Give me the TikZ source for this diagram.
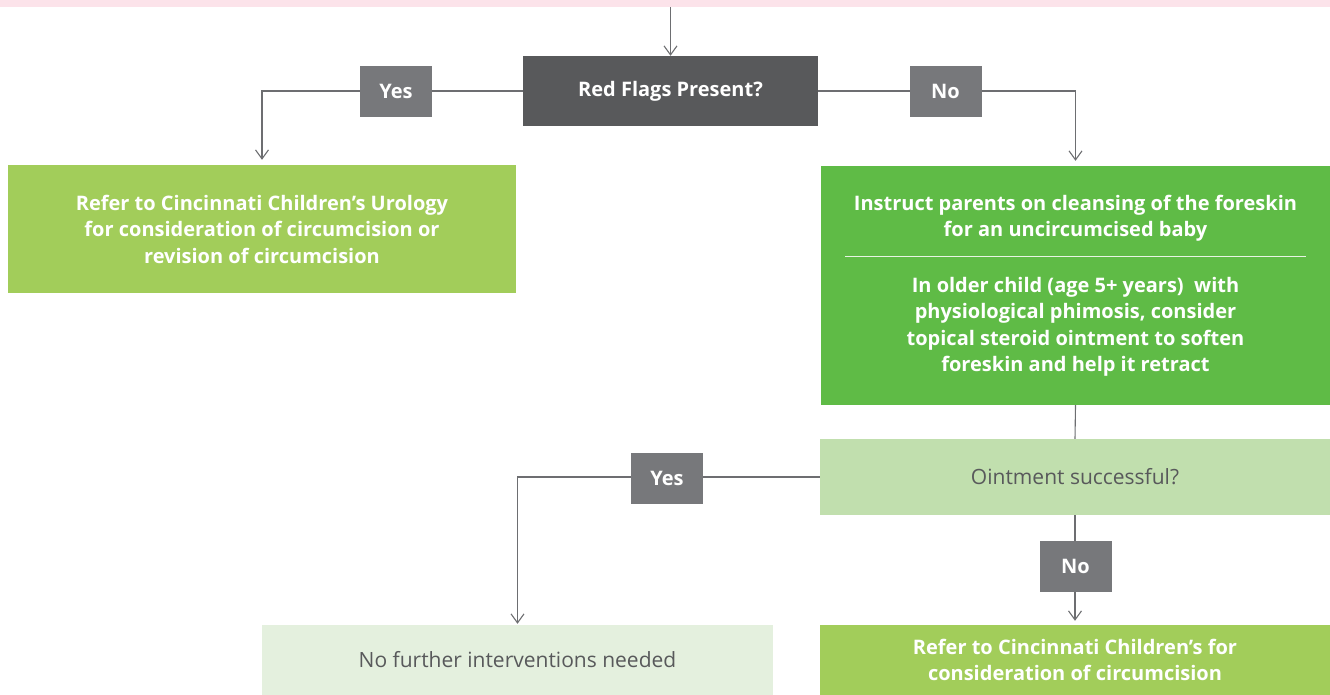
\documentclass[tikz,border=0pt]{standalone}
\usepackage{fontspec}
\setmainfont{Open Sans}
\usetikzlibrary{arrows.meta,backgrounds}
\definecolor{bandpink}{HTML}{FCE3EA}
\definecolor{darkgrey}{HTML}{58595B}
\definecolor{labgrey}{HTML}{77787B}
\definecolor{linegrey}{HTML}{6D6E71}
\definecolor{limegreen}{HTML}{A2CD5A}
\definecolor{midgreen}{HTML}{5FBB46}
\definecolor{palegreen}{HTML}{C1DFAE}
\definecolor{palestgreen}{HTML}{E4F0DE}
\begin{document}
\begin{tikzpicture}[x=1pt,y=-1pt,
  box/.style={rectangle,inner sep=0pt,align=center,text=white,
    font=\fontsize{20}{26.5}\selectfont\bfseries},
  plainbox/.style={box,text=darkgrey,font=\fontsize{21}{26.5}\selectfont},
  lbl/.style={box,fill=labgrey,minimum width=72pt,minimum height=51pt},
  conn/.style={draw=linegrey,line width=1.1pt},
  arr/.style={conn,-{Straight Barb[length=9pt,width=13pt,line width=1.1pt]}}]
  \useasboundingbox (0,0) rectangle (1330,695);
  \node[rectangle,inner sep=0pt,fill=bandpink,minimum width=1330pt,minimum height=7pt] (band) at (665,3.5) {};
  \node[box,fill=darkgrey,minimum width=295pt,minimum height=70pt] (flags) at (670.5,91) {\raisebox{3pt}{Red Flags Present?}};
  \node[box,fill=limegreen,minimum width=508pt,minimum height=128pt] (refer1) at (262,229)
    {Refer to Cincinnati Children’s Urology\\for consideration of circumcision or\\revision of circumcision};
  \node[box,fill=midgreen,minimum width=509pt,minimum height=239pt] (instr) at (1075.5,285.5)
    {Instruct parents on cleansing of the foreskin\\for an uncircumcised baby\\[29pt]
     In older child (age 5+ years)\ \ with\\physiological phimosis, consider\\topical steroid ointment to soften\\foreskin and help it retract};
  \draw[white,opacity=0.85,line width=1pt] ([xshift=24pt,yshift=-91pt]instr.north west) -- ([xshift=-24pt,yshift=-91pt]instr.north east);
  \node[plainbox,fill=palegreen,minimum width=510pt,minimum height=76pt] (oint) at (1075,477) {Ointment successful?};
  \node[plainbox,fill=palestgreen,minimum width=511pt,minimum height=70pt] (nofurther) at (517.5,660) {\raisebox{2pt}{No further interventions needed}};
  \node[box,fill=limegreen,minimum width=510pt,minimum height=70pt] (refer2) at (1075,660)
    {Refer to Cincinnati Children’s for\\consideration of circumcision};
  \node[lbl] (yes1) at (396,91.5) {Yes};
  \node[lbl] (no1) at (945.5,91.5) {No};
  \node[lbl] (yes2) at (667,478.5) {Yes};
  \node[lbl] (no2) at (1075.5,566.5) {No};
  \begin{scope}[on background layer]
    \draw[arr] (band.south -| flags.north) -- (flags.north);
    \draw[arr,shorten >=5pt] (flags.west) -| (refer1.north);
    \draw[arr,shorten >=5pt] (flags.east) -| (instr.north);
    \draw[conn] (instr.south) -- (oint.north);
    \draw[arr,shorten >=1pt] (oint.west) -| (nofurther.north);
    \draw[arr,shorten >=4pt] (oint.south) -- (refer2.north);
  \end{scope}
\end{tikzpicture}
\end{document}
